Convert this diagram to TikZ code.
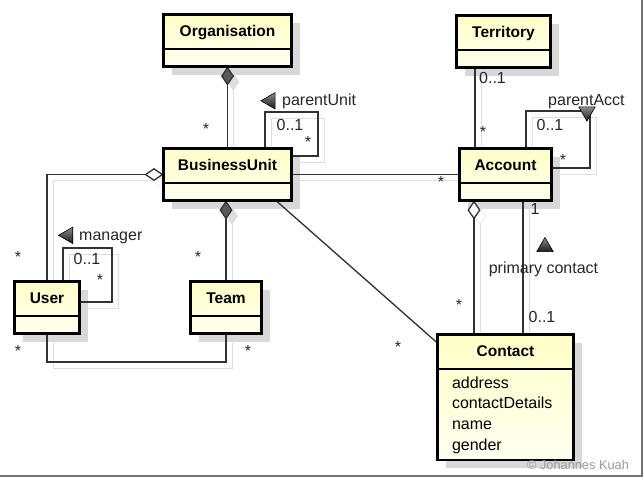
\documentclass[tikz,border=0pt]{standalone}
\usepackage{fontspec}
\setmainfont{Liberation Sans}
\usepackage{tikz}
\usetikzlibrary{positioning, arrows.meta, shapes.geometric, shapes.multipart, calc}
\usepackage{xcolor}
\definecolor{classtop}{RGB}{255, 255, 200}
\definecolor{classbot}{RGB}{255, 255, 240}
\definecolor{linkgray}{RGB}{50, 50, 50}
\definecolor{shadegray}{RGB}{222, 222, 222}
\definecolor{boxshade}{RGB}{216, 216, 216}
\pgfdeclarelayer{shade}
\pgfdeclarelayer{links}
\pgfsetlayers{shade,links,main}
\newcommand{\clsname}[1]{\rule[-6pt]{0pt}{22pt}{\fontsize{15.5}{18}\selectfont\bfseries #1}}

\begin{document}
\begin{tikzpicture}[x=1pt, y=-1pt, font=\fontsize{16}{20.7}\selectfont,
  umlclass/.style={rectangle split, rectangle split parts=2,
    rectangle split part align={center, left}, draw=black, line width=2.4pt,
    top color=classtop, bottom color=classbot, inner xsep=4pt, inner ysep=5pt,
    outer sep=0pt, anchor=north},
  linkshade/.style={draw=shadegray, transform canvas={shift={(6pt,-6pt)}}},
  link/.style={draw=linkgray, line width=1.3pt, preaction={linkshade}},
  agg/.style={draw=linkgray, line width=1.3pt,
    preaction={linkshade, {Diamond[fill=white, length=19pt, width=13pt]}-},
    {Diamond[fill=white, length=19pt, width=13pt]}-},
  comp/.style={draw=linkgray, line width=1.3pt,
    preaction={linkshade, {Diamond[fill=shadegray, length=19pt, width=13pt]}-},
    {Diamond[fill=black!65, length=19pt, width=13pt]}-},
  mult/.style={inner sep=0pt, text=black!85},
  star/.style={mult, yshift=-3.5pt},
  roletri/.style={regular polygon, regular polygon sides=3, minimum size=19pt,
    inner sep=0pt, draw=black, line width=0.6pt, top color=black!45, bottom color=black!90}]
  \useasboundingbox (0,0) rectangle (644,477);
  % Classes
  \node[umlclass, minimum width=128pt] (org) at (227.5,14.5) {\clsname{Organisation}\nodepart{two}};
  \node[umlclass, minimum width=94pt] (terr) at (503.5,15.5) {\clsname{Territory}\nodepart{two}};
  \node[umlclass, minimum width=128pt] (bu) at (227.5,148.5) {\clsname{BusinessUnit}\nodepart{two}};
  \node[umlclass, minimum width=92pt] (acct) at (505.5,148.5) {\clsname{Account}\nodepart{two}};
  \node[umlclass, minimum width=65pt] (user) at (47,281.5) {\clsname{User}\nodepart{two}};
  \node[umlclass, minimum width=71pt] (team) at (226,281.5) {\clsname{Team}\nodepart{two}};
  \node[umlclass, minimum width=136pt, inner xsep=14.5pt, align=left] (contact) at (505.5,334.5)
        {\clsname{Contact}\nodepart{two}\rule{0pt}{13pt}address\\contactDetails\\name\\gender};
  \begin{pgfonlayer}{shade}
    \foreach \n in {org, terr, bu, acct, user, team, contact}{
      \fill[boxshade] ([shift={(8pt,-8pt)}]\n.north west) rectangle ([shift={(8pt,-8pt)}]\n.south east);
    }
  \end{pgfonlayer}
  % Associations
  \coordinate (buloop) at (318,112);
  \coordinate (userloop) at (112,248);
  \coordinate (acctloop) at (590,111);
  \begin{pgfonlayer}{links}
    \draw[comp] (org.south) -- (bu.north);
    \draw[link] (bu.north -| 265,0) |- (buloop) |- (bu.east |- 0,156);
    \draw[link] (bu.east) -- (acct.west);
    \draw[agg] (bu.west) -| (user.north);
    \draw[link] (user.north -| 63,0) |- (userloop) |- (user.east |- 0,302);
    \draw[link] (user.south) -- ++(0,28.5) -| (team.south);
    \draw[comp] (bu.south -| team.north) -- (team.north);
    \draw[link] (bu.south -| 276,0) -- (contact.west |- 0,343);
    \draw[link] (terr.south -| 475,0) -- (acct.north -| 475,0);
    \draw[link] (acct.north -| 526,0) |- (acctloop) |- (acct.east |- 0,168);
    \draw[agg] (acct.south -| 474,0) -- (contact.north -| 474,0);
    \draw[link] (acct.south -| 523,0) -- (contact.north -| 523,0);
  \end{pgfonlayer}
  % Multiplicities
  \foreach \p/\q [count=\i] in {206/125, 308/138, 18/253, 100/276, 18/347, 248/347,
      198/253, 398/343, 441/178, 483/128, 563/156, 459/301}{
    \node[star] (s\i) at (\p,\q) {*};
  }
  \foreach \p/\q [count=\i] in {290/124.5, 87/258.5, 492.5/77.5, 550/125, 542/316.5}{
    \node[mult] (z\i) at (\p,\q) {0..1};
  }
  \node[mult] (one) at (535,208.5) {1};
  % Roles
  \node[roletri, shape border rotate=90] (putri) at (270.4,100.8) {};
  \node[mult, anchor=base west] (pu) at (282,105) {parentUnit};
  \node[roletri, shape border rotate=90] (mgtri) at (68,235.3) {};
  \node[mult, anchor=base west] (mg) at (79,240.5) {manager};
  \node[mult, anchor=base west] (pa) at (548,105) {parentAcct};
  \node[roletri, shape border rotate=180] (patri) at (587,111.6) {};
  \node[roletri] (pctri) at (545,246.9) {};
  \node[mult, anchor=base] (pc) at (543.5,273) {primary contact};
  % Frame and credit
  \node[anchor=base, text=black!40, font=\fontsize{12.8}{15}\selectfont] (credit) at (578,469) {© Johannes Kuah};
  \draw[line width=2pt, black!55] (642,0) |- (0,475.5);
\end{tikzpicture}
\end{document}
